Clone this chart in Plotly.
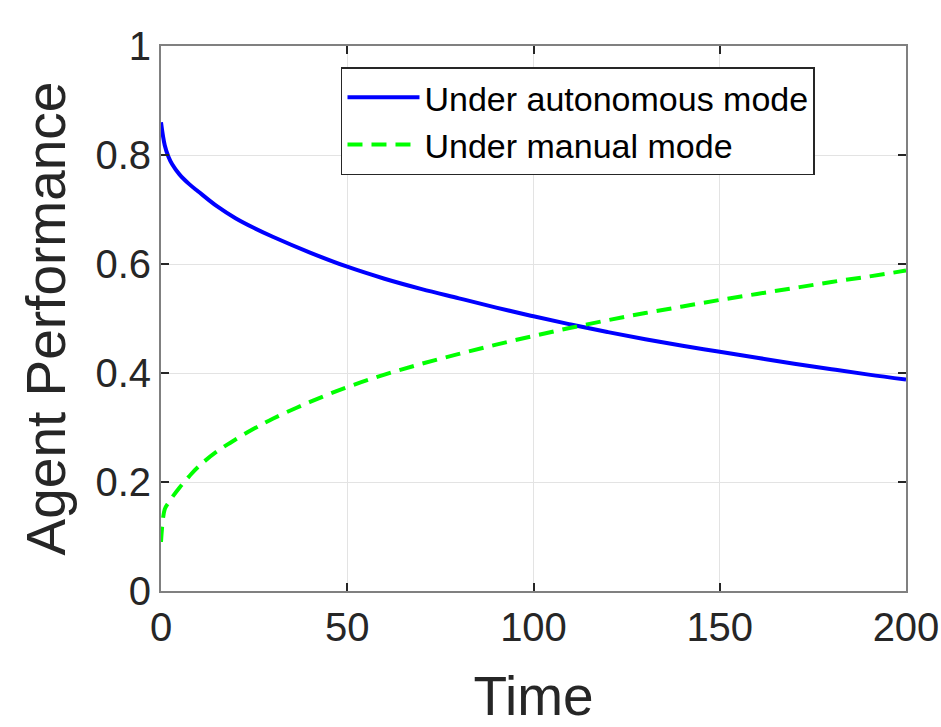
import plotly.graph_objects as go

time = [0, 1, 2, 3, 5, 7.5, 10, 15, 20, 25, 30, 40, 50, 60, 70, 80, 90, 100,
        110, 120, 130, 140, 150, 160, 170, 180, 190, 200]
autonomous = [0.86, 0.818, 0.797, 0.783, 0.764, 0.747, 0.733, 0.706, 0.684, 0.666,
              0.650, 0.621, 0.595, 0.573, 0.554, 0.537, 0.520, 0.504,
              0.489, 0.475, 0.462, 0.450, 0.439, 0.428, 0.417, 0.407, 0.397, 0.388]
manual = [0.09, 0.15, 0.162, 0.172, 0.19, 0.21, 0.228, 0.256, 0.278, 0.298,
          0.316, 0.347, 0.374, 0.397, 0.417, 0.435, 0.452, 0.468,
          0.483, 0.497, 0.510, 0.522, 0.534, 0.545, 0.556, 0.567, 0.577, 0.588]

x_ticks = [0, 50, 100, 150, 200]
y_ticks = [0, 0.2, 0.4, 0.6, 0.8, 1]
y_tick_text = ["0", "0.2", "0.4", "0.6", "0.8", "1"]

FONT = "Liberation Sans, Arial, sans-serif"
TXT = "#262626"

fig = go.Figure()
fig.add_trace(go.Scatter(x=time, y=autonomous, mode="lines", name="Under autonomous mode",
                         line=dict(color="#0000ff", width=4), line_shape="spline"))
fig.add_trace(go.Scatter(x=time, y=manual, mode="lines", name="Under manual mode",
                         line=dict(color="#00ff00", width=4, dash="15px,9px"), line_shape="spline"))

axis_common = dict(showline=True, linecolor="#808080", linewidth=2, mirror="ticks",
                   ticks="inside", ticklen=8, tickwidth=1.5, tickcolor="#262626",
                   showgrid=True, gridcolor="#e3e3e3", gridwidth=1, zeroline=False,
                   automargin=False,
                   tickfont=dict(family=FONT, size=40, color=TXT))

fig.update_xaxes(range=[0, 200], tickvals=x_ticks, **axis_common,
                 title=dict(text="Time", font=dict(family=FONT, size=55, color=TXT), standoff=37))
fig.update_yaxes(range=[0, 1], tickvals=y_ticks, ticktext=y_tick_text, **axis_common,
                 title=dict(text="Agent Performance", font=dict(family=FONT, size=55, color=TXT), standoff=12))

fig.update_layout(
    width=941, height=727,
    margin=dict(l=161, r=35, t=46, b=136),
    paper_bgcolor="white", plot_bgcolor="white",
    showlegend=True,
    legend=dict(x=0.2416, y=0.961, xanchor="left", yanchor="top",
                bgcolor="white", bordercolor="#262626", borderwidth=1.5,
                font=dict(family=FONT, size=34, color="black"),
                itemwidth=72, tracegroupgap=0),
)

fig.write_html("out.html")
